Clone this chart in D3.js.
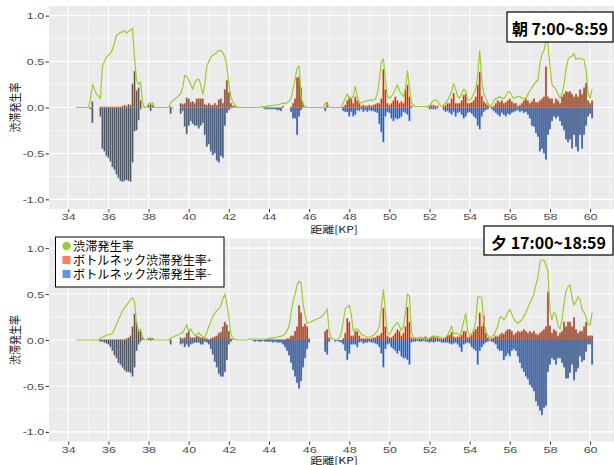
<!DOCTYPE html>
<html>
<head>
<meta charset="utf-8">
<script src="https://cdn.jsdelivr.net/npm/d3@7"></script>
<style>
  body { margin: 0; background: #fff; }
  svg { display: block; }
</style>
</head>
<body>
<svg id="chart" width="614" height="465"></svg>
<script>
// Distance axis: one value every 0.1 KP from 34.4 to 60.1
const kpStart = 34.4;
const kpStep = 0.1;
const xTicks = [34, 36, 38, 40, 42, 44, 46, 48, 50, 52, 54, 56, 58, 60];
const yTicks = [-1, -0.5, 0, 0.5, 1];
const panelTitles = ["朝 7:00~8:59", "夕 17:00~18:59"];
const legendLabels = ["渋滞発生率", "ボトルネック渋滞発生率", "ボトルネック渋滞発生率"];
const legendSigns = ["", "+", "−"];

// Morning 7:00–8:59
const morningRate = [
  0,0,0,0,0,0,
  0,0.08,0.25,0.2,0.15,0.12,0.1,0.45,0.5,0.55,
  0.57,0.59,0.63,0.7,0.79,0.8,0.82,0.82,0.84,0.81,
  0.83,0.84,0.86,0.55,0.3,0.25,0.28,0.05,0,0,
  0.04,0.05,0.05,0,0,0,0,0,0,0,
  0,0.05,0.07,0.09,0.11,0.13,0.15,0.22,0.35,0.34,
  0.3,0.25,0.2,0.27,0.3,0.31,0.25,0.14,0.25,0.45,
  0.5,0.55,0.57,0.58,0.6,0.62,0.62,0.6,0.55,0.45,
  0.25,0.12,0.06,0.02,0.01,0,0,0,0,0,
  0,0,0,0,0,0,0.01,0.01,0.01,0.01,
  0.02,0.02,0.02,0.03,0.03,0.03,0.04,0.05,0.04,0.05,
  0.07,0.1,0.2,0.3,0.43,0.45,0.12,0.03,0.01,0,
  0,0,0,0,0,0,0,0,0.05,0.04,
  0,0,0,0,0,0,0,0.05,0.1,0.15,
  0.1,0.1,0.12,0.23,0.12,0.06,0.05,0.06,0.07,0.07,
  0.08,0.08,0.08,0.09,0.15,0.3,0.5,0.53,0.3,0.12,
  0.1,0.12,0.15,0.2,0.25,0.18,0.15,0.12,0.2,0.4,
  0.22,0.05,0.02,0.01,0.01,0.01,0.01,0.01,0.01,0.01,
  0.02,0.05,0.08,0.08,0.07,0.03,0.01,0.02,0.05,0.08,
  0.12,0.18,0.26,0.2,0.12,0.1,0.15,0.2,0.18,0.08,
  0.08,0.1,0.15,0.2,0.35,0.62,0.3,0.15,0.1,0.05,
  0.01,0.03,0.07,0.1,0.1,0.12,0.1,0.1,0.13,0.17,
  0.17,0.13,0.1,0.11,0.12,0.12,0.1,0.1,0.1,0.14,
  0.18,0.22,0.25,0.28,0.3,0.48,0.58,0.62,0.72,0.7,
  0.45,0.25,0.22,0.2,0.15,0.1,0.15,0.25,0.42,0.52,
  0.55,0.56,0.59,0.52,0.54,0.53,0.53,0.52,0.4,0.15,
  0.1,0.2
];
const morningPlus = [
  0,0,0,0,0,0,
  0,0,0.07,0,0,0,0.01,0.01,0.01,0.01,
  0.01,0.01,0.01,0.01,0.01,0.01,0.01,0.02,0.03,0.02,
  0.04,0.03,0.26,0.4,0.19,0.22,0.08,0.01,0,0,
  0.03,0.04,0.03,0,0,0,0,0,0,0,
  0,0.01,0,0,0,0,0.05,0.04,0.05,0.11,
  0.1,0.06,0.07,0.05,0.1,0.1,0.1,0.1,0.04,0.03,
  0.05,0.03,0.03,0.05,0.03,0.09,0.1,0.05,0.2,0.3,
  0.17,0.05,0.02,0.02,0.01,0,0,0,0,0,
  0,0,0,0,0,0,0,0,0,0,
  0,0,0,0,0,0,0,0.02,0,0,
  0,0.01,0.05,0.1,0.33,0.34,0.22,0.05,0.01,0,
  0,0,0,0,0,0,0,0,0,0.06,
  0,0,0,0,0,0,0,0.01,0.03,0.08,
  0.12,0.1,0.05,0.12,0.08,0.05,0.02,0.03,0.02,0.02,
  0.03,0.02,0.03,0.04,0.05,0.05,0.1,0.42,0.2,0.05,
  0.03,0.05,0.08,0.12,0.08,0.05,0.07,0.05,0.2,0.25,
  0.12,0.02,0,0,0,0,0,0,0,0.01,
  0.02,0.03,0.03,0.02,0.02,0,0,0.02,0.03,0.05,
  0.05,0.1,0.16,0.05,0.05,0.05,0.08,0.14,0.15,0.05,
  0.05,0.06,0.08,0.12,0.25,0.39,0.13,0.07,0.05,0.03,
  0.01,0.01,0.02,0.05,0.08,0.06,0.08,0.05,0.06,0.08,
  0.1,0.07,0.05,0.05,0.02,0.03,0.05,0.08,0.1,0.08,
  0.05,0.07,0.1,0.06,0.06,0.08,0.1,0.12,0.45,0.12,
  0.1,0.1,0.05,0.1,0.08,0.05,0.12,0.15,0.18,0.17,
  0.18,0.15,0.12,0.15,0.12,0.2,0.15,0.22,0.27,0.08,
  0.05,0.08
];
const morningMinus = [
  0,0,0,0,0,0,
  0,-0.02,-0.17,0,0,0,-0.1,-0.45,-0.48,-0.53,
  -0.55,-0.59,-0.65,-0.68,-0.73,-0.77,-0.8,-0.81,-0.8,-0.79,
  -0.8,-0.81,-0.6,-0.26,-0.25,-0.14,-0.02,0,0,0,
  0,-0.04,0,0,0,0,0,0,0,0,
  0,-0.07,-0.01,0,0,0,-0.07,-0.04,-0.21,-0.29,
  -0.2,-0.15,-0.18,-0.2,-0.2,-0.23,-0.2,-0.17,-0.3,-0.43,
  -0.4,-0.48,-0.52,-0.5,-0.58,-0.6,-0.53,-0.55,-0.2,-0.06,
  -0.03,-0.01,0,0,0,0,0,0,0,0,
  0,0,0,0,0,0,0,-0.01,-0.02,-0.02,
  -0.02,-0.02,-0.02,-0.02,-0.03,-0.03,-0.04,0,0,0,
  0,-0.05,-0.12,-0.12,-0.3,-0.1,-0.03,0,0,0,
  0,0,0,0,0,0,0,0,-0.04,0,
  0,0,0,0,0,0,0,-0.04,-0.05,-0.05,
  -0.1,-0.05,-0.1,-0.08,-0.03,-0.04,-0.02,-0.05,-0.03,-0.05,
  -0.03,-0.04,-0.04,-0.05,-0.06,-0.18,-0.27,-0.38,-0.1,-0.05,
  -0.06,-0.12,-0.15,-0.12,-0.13,-0.12,-0.1,-0.05,-0.06,-0.08,
  -0.15,-0.01,0,0,0,0,0,0,0,0,
  -0.02,-0.02,-0.02,-0.02,-0.01,0,0,-0.03,-0.05,-0.04,
  -0.06,-0.08,-0.05,-0.1,-0.06,-0.05,-0.08,-0.12,-0.1,-0.06,
  -0.05,-0.07,-0.1,-0.12,-0.2,-0.24,-0.1,-0.05,-0.03,-0.02,
  0,-0.02,-0.04,-0.06,-0.08,-0.1,-0.06,-0.08,-0.1,-0.07,
  -0.08,-0.06,-0.05,-0.04,-0.03,-0.05,-0.04,-0.06,-0.05,-0.08,
  -0.12,-0.2,-0.21,-0.28,-0.32,-0.48,-0.45,-0.5,-0.57,-0.3,
  -0.24,-0.15,-0.1,-0.12,-0.1,-0.15,-0.2,-0.25,-0.35,-0.38,
  -0.35,-0.45,-0.3,-0.43,-0.48,-0.3,-0.45,-0.3,-0.2,-0.1,
  -0.07,-0.12
];

// Evening 17:00–18:59
const eveningRate = [
  0,0,0,0,0,0,
  0,0,0,0,0,0,0.02,0.03,0.04,0.05,
  0.06,0.06,0.07,0.12,0.17,0.22,0.27,0.32,0.35,0.38,
  0.41,0.44,0.46,0.42,0.18,0.1,0.12,0.03,0,0,
  0.02,0.02,0.02,0,0,0,0,0,0,0,
  0,0.02,0.03,0.04,0.05,0.06,0.07,0.08,0.12,0.17,
  0.1,0.12,0.08,0.05,0.06,0.08,0.05,0.04,0.02,0.08,
  0.15,0.2,0.26,0.29,0.32,0.34,0.37,0.45,0.5,0.4,
  0.25,0.06,0.02,0.01,0,0,0,0,0,0,
  0.01,0.01,0.01,0.01,0.01,0.01,0.01,0.01,0.01,0.01,
  0.02,0.02,0.02,0.03,0.03,0.04,0.04,0.05,0.07,0.1,
  0.15,0.3,0.42,0.5,0.6,0.64,0.62,0.39,0.27,0.18,
  0.19,0.2,0.21,0.22,0.23,0.24,0.25,0.27,0.3,0.34,
  0.1,0.02,0.01,0,0,0.02,0.08,0.2,0.34,0.36,
  0.38,0.28,0.1,0.12,0.12,0.1,0.06,0.05,0.04,0.03,
  0.03,0.04,0.05,0.07,0.1,0.15,0.35,0.55,0.3,0.08,
  0.06,0.1,0.14,0.17,0.19,0.15,0.1,0.15,0.3,0.5,
  0.48,0.08,0.03,0.02,0.02,0.03,0.03,0.02,0.01,0.01,
  0.02,0.03,0.04,0.04,0.04,0.03,0.02,0.02,0.03,0.05,
  0.1,0.15,0.06,0.08,0.07,0.05,0.1,0.2,0.29,0.1,
  0.05,0.07,0.1,0.2,0.47,0.47,0.46,0.2,0.1,0.05,
  0.02,0.04,0.05,0.1,0.15,0.25,0.25,0.22,0.25,0.3,
  0.33,0.28,0.23,0.2,0.18,0.2,0.22,0.26,0.3,0.35,
  0.4,0.45,0.5,0.6,0.68,0.85,0.87,0.87,0.82,0.75,
  0.32,0.22,0.3,0.27,0.15,0.12,0.22,0.4,0.53,0.58,
  0.6,0.46,0.38,0.42,0.47,0.44,0.33,0.3,0.25,0.17,
  0.16,0.3
];
const eveningPlus = [
  0,0,0,0,0,0,
  0,0,0,0,0,0,0.01,0.01,0.01,0.01,
  0.01,0.01,0.01,0.01,0.01,0.01,0.01,0.01,0.01,0.02,
  0.03,0.05,0.15,0.29,0.2,0.1,0.1,0.03,0,0,
  0.02,0.02,0.02,0,0,0,0,0,0,0,
  0,0.01,0,0,0,0,0.03,0.02,0.03,0.08,
  0.1,0.03,0.03,0.03,0.05,0.04,0.03,0.03,0.02,0.02,
  0.01,0.02,0.03,0.04,0.05,0.08,0.09,0.15,0.2,0.17,
  0.1,0.02,0.01,0,0,0,0,0,0,0,
  0,0,0,0,0,0,0,0,0.01,0.01,
  0.01,0.01,0.01,0.01,0.01,0.01,0.01,0.01,0.01,0.02,
  0.02,0.05,0.05,0.1,0.15,0.38,0.3,0.15,0.18,0.15,
  0.02,0,0,0,0,0,0,0,0.1,0.12,
  0.03,0,0,0,0,0,0,0.02,0.08,0.24,
  0.2,0.05,0.05,0.1,0.1,0.05,0.02,0.02,0.02,0.02,
  0.02,0.02,0.03,0.03,0.05,0.05,0.08,0.35,0.15,0.05,
  0.03,0.03,0.05,0.08,0.12,0.1,0.05,0.08,0.15,0.36,
  0.2,0.03,0.02,0.03,0.02,0.02,0.02,0.02,0.04,0.02,
  0.03,0.04,0.05,0.03,0.03,0.02,0.02,0.02,0.03,0.05,
  0.06,0.09,0.04,0.03,0.04,0.04,0.06,0.1,0.1,0.03,
  0.04,0.06,0.1,0.12,0.15,0.3,0.15,0.27,0.08,0.03,
  0.01,0.02,0.03,0.05,0.04,0.06,0.08,0.07,0.1,0.12,
  0.12,0.1,0.06,0.08,0.1,0.09,0.1,0.12,0.1,0.08,
  0.1,0.08,0.1,0.07,0.06,0.08,0.1,0.12,0.15,0.53,
  0.16,0.08,0.12,0.1,0.05,0.08,0.1,0.2,0.15,0.2,
  0.2,0.15,0.25,0.12,0.08,0.1,0.1,0.15,0.2,0.05,
  0.05,0.05
];
const eveningMinus = [
  0,0,0,0,0,0,
  0,0,0,0,0,0,-0.02,-0.02,-0.03,-0.04,
  -0.05,-0.08,-0.12,-0.17,-0.2,-0.25,-0.27,-0.3,-0.33,-0.35,
  -0.35,-0.36,-0.4,-0.3,-0.12,-0.05,-0.02,0,0,0,
  0,-0.01,0,0,0,0,0,0,0,0,
  0,-0.05,0,0,0,0,-0.05,-0.04,-0.08,-0.05,
  -0.08,-0.05,-0.04,-0.03,-0.03,-0.03,-0.05,-0.05,-0.02,-0.03,
  -0.05,-0.1,-0.16,-0.24,-0.3,-0.37,-0.4,-0.4,-0.35,-0.22,
  -0.05,-0.02,0,0,0,0,0,0,0,0,
  0,0,-0.01,-0.02,-0.01,-0.02,-0.02,-0.01,-0.02,-0.02,
  -0.02,-0.02,-0.03,-0.02,-0.03,-0.03,-0.03,-0.05,-0.08,-0.12,
  -0.17,-0.25,-0.33,-0.4,-0.47,-0.53,-0.45,-0.3,-0.2,-0.1,
  -0.03,0,0,0,0,0,0,0,-0.13,-0.16,
  -0.02,0,0,-0.02,-0.01,-0.02,-0.03,-0.05,-0.12,-0.22,
  -0.15,-0.05,-0.05,-0.05,-0.08,-0.03,-0.02,-0.04,-0.03,-0.03,
  -0.02,-0.03,-0.03,-0.04,-0.05,-0.08,-0.15,-0.3,-0.1,-0.05,
  -0.04,-0.08,-0.1,-0.12,-0.15,-0.12,-0.18,-0.2,-0.2,-0.22,
  -0.27,-0.03,-0.02,-0.02,-0.01,-0.02,-0.02,-0.01,-0.02,-0.02,
  -0.03,-0.02,-0.03,-0.02,-0.02,-0.02,-0.03,-0.03,-0.03,-0.03,
  -0.04,-0.05,-0.04,-0.03,-0.05,-0.08,-0.13,-0.05,-0.04,-0.03,
  -0.04,-0.08,-0.1,-0.12,-0.27,-0.12,-0.08,-0.05,-0.03,-0.02,
  -0.01,-0.02,-0.03,-0.05,-0.1,-0.12,-0.12,-0.22,-0.18,-0.15,
  -0.18,-0.12,-0.1,-0.12,-0.18,-0.25,-0.31,-0.35,-0.4,-0.43,
  -0.49,-0.52,-0.56,-0.67,-0.72,-0.77,-0.82,-0.74,-0.72,-0.35,
  -0.27,-0.2,-0.22,-0.27,-0.2,-0.2,-0.25,-0.3,-0.42,-0.42,
  -0.36,-0.27,-0.44,-0.35,-0.31,-0.18,-0.24,-0.22,-0.13,-0.05,
  -0.05,-0.27
];

const colors = {
  rate: "#9ACD32",
  plus: "#FF7F50",
  minus: "#6495ED",
  core: "#4a4a4a",
  panel: "#EBEBEB",
  axisText: "#4D4D4D"
};
const cjk = "'Noto Sans CJK JP', 'Noto Sans', sans-serif";
const latin = "'Liberation Sans', Arial, sans-serif";
const stretch = 1.3;   // axis lettering is drawn wide

const svg = d3.select("#chart");
const W = 614;
const panelLeft = 49;

const x = d3.scaleLinear().domain([34, 60]).range([68.3, 590.1]);
const barW = x(kpStep) - x(0);
const kpOf = i => +(kpStart + i * kpStep).toFixed(1);

const panels = [
  { rate: morningRate, plus: morningPlus, minus: morningMinus,
    top: 6, bottom: 209, title: panelTitles[0], box: [507, 12, 106, 30], xTitleY: 228.5 },
  { rate: eveningRate, plus: eveningPlus, minus: eveningMinus,
    top: 238.5, bottom: 441.5, title: panelTitles[1], box: [484, 226, 129, 29], xTitleY: 459.3 }
];

panels.forEach((p, pi) => {
  const y = d3.scaleLinear().domain([-1.105, 1.105]).range([p.bottom, p.top]);
  const g = svg.append("g");
  const clipId = "clip" + pi;
  svg.append("clipPath").attr("id", clipId)
    .append("rect").attr("x", panelLeft).attr("y", p.top)
    .attr("width", W - panelLeft).attr("height", p.bottom - p.top);

  g.append("rect").attr("x", panelLeft).attr("y", p.top)
    .attr("width", W - panelLeft).attr("height", p.bottom - p.top)
    .attr("fill", colors.panel);

  const grid = g.append("g").attr("clip-path", `url(#${clipId})`);
  const xMinor = d3.range(33, 62, 2);
  const yMinor = [-0.75, -0.25, 0.25, 0.75];
  grid.selectAll(".xmin").data(xMinor).join("line")
    .attr("x1", d => x(d)).attr("x2", d => x(d))
    .attr("y1", p.top).attr("y2", p.bottom)
    .attr("stroke", "#fff").attr("stroke-width", 0.55);
  grid.selectAll(".ymin").data(yMinor).join("line")
    .attr("x1", panelLeft).attr("x2", W)
    .attr("y1", d => y(d)).attr("y2", d => y(d))
    .attr("stroke", "#fff").attr("stroke-width", 0.55);
  grid.selectAll(".xmaj").data(xTicks).join("line")
    .attr("x1", d => x(d)).attr("x2", d => x(d))
    .attr("y1", p.top).attr("y2", p.bottom)
    .attr("stroke", "#fff").attr("stroke-width", 1.1);
  grid.selectAll(".ymaj").data(yTicks).join("line")
    .attr("x1", panelLeft).attr("x2", W)
    .attr("y1", d => y(d)).attr("y2", d => y(d))
    .attr("stroke", "#fff").attr("stroke-width", 1.1);

  // bottleneck bars: coloured body with a dark core
  const plot = g.append("g").attr("clip-path", `url(#${clipId})`);
  const drawBars = (values, fill) => {
    const data = values.map((v, i) => ({ kp: kpOf(i), v })).filter(d => d.v !== 0);
    plot.append("g").selectAll("rect").data(data).join("rect")
      .attr("x", d => x(d.kp) - barW / 2)
      .attr("width", barW)
      .attr("y", d => Math.min(y(d.v), y(0)))
      .attr("height", d => Math.abs(y(d.v) - y(0)))
      .attr("fill", fill);
    plot.append("g").selectAll("rect").data(data).join("rect")
      .attr("x", d => x(d.kp) - 0.55)
      .attr("width", 1.1)
      .attr("y", d => d.v > 0 ? y(d.v) + 0.8 : y(0))
      .attr("height", d => Math.max(0, Math.abs(y(d.v) - y(0)) - 0.8))
      .attr("fill", colors.core)
      .attr("opacity", 0.85);
  };
  drawBars(p.plus, colors.plus);
  drawBars(p.minus, colors.minus);

  const line = d3.line().x(d => x(d.kp)).y(d => y(d.v));
  plot.append("path")
    .datum(p.rate.map((v, i) => ({ kp: kpOf(i), v })))
    .attr("d", line)
    .attr("fill", "none")
    .attr("stroke", colors.rate)
    .attr("stroke-width", 1.2)
    .attr("stroke-linejoin", "round");

  // y axis
  const yAxis = g.append("g").attr("transform", `translate(${panelLeft},0)`)
    .call(d3.axisLeft(y).tickValues(yTicks).tickFormat(d => d.toFixed(1)).tickSize(3.5));
  yAxis.select(".domain").remove();
  yAxis.selectAll("line").attr("stroke", "#333");
  yAxis.selectAll("text").attr("fill", colors.axisText)
    .attr("x", -3.7)
    .attr("transform", `scale(${stretch},1)`)
    .style("font-family", latin).style("font-size", "9.6px");

  // x axis
  const xAxis = g.append("g").attr("transform", `translate(0,${p.bottom})`)
    .call(d3.axisBottom(x).tickValues(xTicks).tickFormat(d3.format("d")).tickSize(3.2).tickPadding(1));
  xAxis.select(".domain").remove();
  xAxis.selectAll("line").attr("stroke", "#333");
  xAxis.selectAll("text").attr("fill", colors.axisText)
    .attr("transform", `scale(${stretch},1)`)
    .style("font-family", latin).style("font-size", "9.6px");

  // axis titles
  g.append("text")
    .attr("transform", `translate(19.5,${(p.top + p.bottom) / 2}) rotate(-90) scale(1,1.2)`)
    .attr("text-anchor", "middle")
    .style("font-family", cjk).style("font-size", "10px").attr("fill", "#222")
    .text("渋滞発生率");
  g.append("text")
    .attr("transform", `translate(334,${p.xTitleY}) scale(${stretch},1)`)
    .attr("text-anchor", "middle").attr("dominant-baseline", "central")
    .style("font-family", cjk).style("font-size", "9.3px").attr("fill", "#222")
    .text("距離[KP]");

  // period label box
  const [bx, by, bw, bh] = p.box;
  g.append("rect").attr("x", bx).attr("y", by).attr("width", bw).attr("height", bh)
    .attr("fill", "#fff").attr("stroke", "#000").attr("stroke-width", 1.2);
  g.append("text")
    .attr("x", bx + bw / 2).attr("y", by + bh / 2 + 1)
    .attr("text-anchor", "middle").attr("dominant-baseline", "central")
    .style("font-family", cjk).style("font-weight", "bold").style("font-size", "16px")
    .attr("fill", "#000")
    .text(p.title);
});

// legend
const legend = svg.append("g");
legend.append("rect").attr("x", 55.5).attr("y", 237).attr("width", 168.5).attr("height", 50)
  .attr("fill", "#fff").attr("stroke", "#000").attr("stroke-width", 1);
const legendColors = [colors.rate, colors.plus, colors.minus];
legendLabels.forEach((label, i) => {
  const cy = 246 + i * 14;
  if (i === 0) {
    legend.append("circle").attr("cx", 66.5).attr("cy", cy).attr("r", 4.2).attr("fill", legendColors[i]);
  } else {
    legend.append("rect").attr("x", 62.5).attr("y", cy - 4).attr("width", 8).attr("height", 8)
      .attr("fill", legendColors[i]);
  }
  const t = legend.append("text").attr("x", 73).attr("y", cy)
    .attr("dominant-baseline", "central")
    .style("font-family", cjk).style("font-size", "12.2px").attr("fill", "#000");
  t.append("tspan").text(label);
  if (legendSigns[i]) {
    t.append("tspan").style("font-size", "8px").attr("dy", -1).text(legendSigns[i]);
  }
});
</script>
</body>
</html>
